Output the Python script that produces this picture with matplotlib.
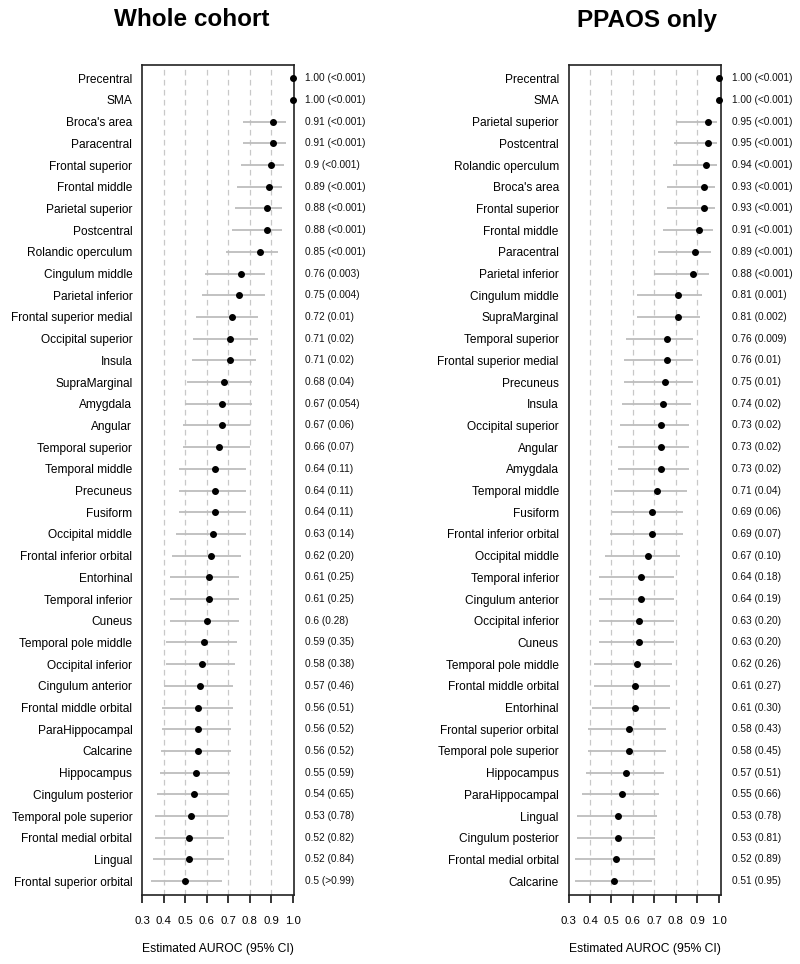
import matplotlib
matplotlib.use("Agg")
import matplotlib.pyplot as plt
import matplotlib.transforms as mtransforms

plt.rcParams['font.family'] = ['Liberation Sans', 'DejaVu Sans']

# ---------------- Whole cohort ----------------
regions_whole = ["Precentral", "SMA", "Broca's area", "Paracentral", "Frontal superior",
                 "Frontal middle", "Parietal superior", "Postcentral", "Rolandic operculum",
                 "Cingulum middle", "Parietal inferior", "Frontal superior medial",
                 "Occipital superior", "Insula", "SupraMarginal", "Amygdala", "Angular",
                 "Temporal superior", "Temporal middle", "Precuneus", "Fusiform",
                 "Occipital middle", "Frontal inferior orbital", "Entorhinal",
                 "Temporal inferior", "Cuneus", "Temporal pole middle", "Occipital inferior",
                 "Cingulum anterior", "Frontal middle orbital", "ParaHippocampal", "Calcarine",
                 "Hippocampus", "Cingulum posterior", "Temporal pole superior",
                 "Frontal medial orbital", "Lingual", "Frontal superior orbital"]
auc_whole = [1.00, 1.00, 0.91, 0.91, 0.90, 0.89, 0.88, 0.88, 0.85, 0.76, 0.75, 0.72, 0.71,
             0.71, 0.68, 0.67, 0.67, 0.66, 0.64, 0.64, 0.64, 0.63, 0.62, 0.61, 0.61, 0.60,
             0.59, 0.58, 0.57, 0.56, 0.56, 0.56, 0.55, 0.54, 0.53, 0.52, 0.52, 0.50]
lo_whole = [1.00, 1.00, 0.768, 0.768, 0.759, 0.740, 0.731, 0.720, 0.692, 0.592, 0.580, 0.551,
            0.539, 0.531, 0.511, 0.501, 0.492, 0.489, 0.471, 0.471, 0.471, 0.460, 0.441, 0.430,
            0.430, 0.430, 0.412, 0.412, 0.401, 0.392, 0.392, 0.390, 0.382, 0.371, 0.360, 0.360,
            0.350, 0.340]
hi_whole = [1.00, 1.00, 0.970, 0.970, 0.960, 0.951, 0.951, 0.951, 0.931, 0.871, 0.871, 0.841,
            0.841, 0.832, 0.812, 0.812, 0.801, 0.801, 0.782, 0.782, 0.782, 0.782, 0.762, 0.753,
            0.753, 0.753, 0.743, 0.733, 0.722, 0.722, 0.712, 0.712, 0.711, 0.701, 0.701, 0.681,
            0.681, 0.672]
text_whole = ["1.00 (<0.001)", "1.00 (<0.001)", "0.91 (<0.001)", "0.91 (<0.001)", "0.9 (<0.001)",
              "0.89 (<0.001)", "0.88 (<0.001)", "0.88 (<0.001)", "0.85 (<0.001)", "0.76 (0.003)",
              "0.75 (0.004)", "0.72 (0.01)", "0.71 (0.02)", "0.71 (0.02)", "0.68 (0.04)",
              "0.67 (0.054)", "0.67 (0.06)", "0.66 (0.07)", "0.64 (0.11)", "0.64 (0.11)",
              "0.64 (0.11)", "0.63 (0.14)", "0.62 (0.20)", "0.61 (0.25)", "0.61 (0.25)",
              "0.6 (0.28)", "0.59 (0.35)", "0.58 (0.38)", "0.57 (0.46)", "0.56 (0.51)",
              "0.56 (0.52)", "0.56 (0.52)", "0.55 (0.59)", "0.54 (0.65)", "0.53 (0.78)",
              "0.52 (0.82)", "0.52 (0.84)", "0.5 (>0.99)"]

# ---------------- PPAOS only ----------------
regions_ppaos = ["Precentral", "SMA", "Parietal superior", "Postcentral", "Rolandic operculum",
                 "Broca's area", "Frontal superior", "Frontal middle", "Paracentral",
                 "Parietal inferior", "Cingulum middle", "SupraMarginal", "Temporal superior",
                 "Frontal superior medial", "Precuneus", "Insula", "Occipital superior",
                 "Angular", "Amygdala", "Temporal middle", "Fusiform", "Frontal inferior orbital",
                 "Occipital middle", "Temporal inferior", "Cingulum anterior",
                 "Occipital inferior", "Cuneus", "Temporal pole middle", "Frontal middle orbital",
                 "Entorhinal", "Frontal superior orbital", "Temporal pole superior",
                 "Hippocampus", "ParaHippocampal", "Lingual", "Cingulum posterior",
                 "Frontal medial orbital", "Calcarine"]
auc_ppaos = [1.00, 1.00, 0.95, 0.95, 0.94, 0.93, 0.93, 0.91, 0.89, 0.88, 0.81, 0.81, 0.76,
             0.76, 0.75, 0.74, 0.73, 0.73, 0.73, 0.71, 0.69, 0.69, 0.67, 0.64, 0.64, 0.63,
             0.63, 0.62, 0.61, 0.61, 0.58, 0.58, 0.57, 0.55, 0.53, 0.53, 0.52, 0.51]
lo_ppaos = [1.00, 1.00, 0.800, 0.791, 0.788, 0.761, 0.761, 0.740, 0.719, 0.700, 0.621, 0.621,
            0.568, 0.560, 0.560, 0.551, 0.542, 0.531, 0.531, 0.512, 0.503, 0.492, 0.470, 0.441,
            0.441, 0.441, 0.441, 0.420, 0.420, 0.409, 0.391, 0.391, 0.381, 0.361, 0.341, 0.341,
            0.331, 0.331]
hi_ppaos = [1.00, 1.00, 0.993, 0.993, 0.993, 0.983, 0.983, 0.972, 0.962, 0.953, 0.922, 0.911,
            0.881, 0.881, 0.881, 0.872, 0.863, 0.863, 0.863, 0.852, 0.831, 0.831, 0.820, 0.791,
            0.791, 0.791, 0.791, 0.782, 0.772, 0.772, 0.752, 0.752, 0.744, 0.722, 0.712, 0.702,
            0.702, 0.691]
text_ppaos = ["1.00 (<0.001)", "1.00 (<0.001)", "0.95 (<0.001)", "0.95 (<0.001)", "0.94 (<0.001)",
              "0.93 (<0.001)", "0.93 (<0.001)", "0.91 (<0.001)", "0.89 (<0.001)", "0.88 (<0.001)",
              "0.81 (0.001)", "0.81 (0.002)", "0.76 (0.009)", "0.76 (0.01)", "0.75 (0.01)",
              "0.74 (0.02)", "0.73 (0.02)", "0.73 (0.02)", "0.73 (0.02)", "0.71 (0.04)",
              "0.69 (0.06)", "0.69 (0.07)", "0.67 (0.10)", "0.64 (0.18)", "0.64 (0.19)",
              "0.63 (0.20)", "0.63 (0.20)", "0.62 (0.26)", "0.61 (0.27)", "0.61 (0.30)",
              "0.58 (0.43)", "0.58 (0.45)", "0.57 (0.51)", "0.55 (0.66)", "0.53 (0.78)",
              "0.53 (0.81)", "0.52 (0.89)", "0.51 (0.95)"]

titles = ["Whole cohort", "PPAOS only"]
tick_values = [0.3, 0.4, 0.5, 0.6, 0.7, 0.8, 0.9, 1.0]
tick_labels = ["0.3", "0.4", "0.5", "0.6", "0.7", "0.8", "0.9", "1.0"]
grid_values = [0.4, 0.5, 0.6, 0.7, 0.8, 0.9]
xlabel = "Estimated AUROC (95% CI)"

W, H = 800, 964
fig = plt.figure(figsize=(W / 100, H / 100), dpi=100)

panels = [
    (regions_whole, auc_whole, lo_whole, hi_whole, text_whole, 142.0, 152.3, 191.5),
    (regions_ppaos, auc_ppaos, lo_ppaos, hi_ppaos, text_ppaos, 568.5, 152.0, 647.0),
]

box_top, box_bot = 65.0, 895.0
for (regs, auc, lo, hi, txt, x0, w, tx), title in zip(panels, titles):
    ax = fig.add_axes([x0 / W, 1 - box_bot / H, w / W, (box_bot - box_top) / H])
    n = len(regs)
    ys = list(range(n))
    ax.set_xlim(0.3, 1.008)
    ax.set_ylim(37.64, -0.61)
    for g in grid_values:
        ax.axvline(g, color='#c8c8c8', lw=0.9, dashes=(4.5, 3.5), zorder=1)
    ax.hlines(ys, lo, hi, color='#bdbdbd', lw=1.3, zorder=2)
    ax.plot(auc, ys, 'o', color='black', ms=4.0, zorder=3, clip_on=False)
    ax.set_yticks(ys)
    ax.set_yticklabels(regs, fontsize=8.6)
    ax.tick_params(axis='y', length=0, pad=7)
    ax.set_xticks(tick_values)
    ax.set_xticklabels(tick_labels, fontsize=8.2)
    ax.tick_params(axis='x', length=6, width=1.1, pad=9, direction='out')
    for s in ax.spines.values():
        s.set_linewidth(1.2)
        s.set_color('#222222')
    trans = mtransforms.blended_transform_factory(fig.transFigure, ax.transData)
    for y, t in zip(ys, txt):
        ax.text((x0 + w + 11) / W, y, t, transform=trans, fontsize=7.3,
                va='center', ha='left', color='#111111')
    fig.text(tx / W, 1 - 20 / H, title, fontsize=17.5, fontweight='bold',
             ha='center', va='center')
    fig.text((x0 + w / 2) / W, 1 - 949 / H, xlabel, fontsize=8.7,
             ha='center', va='center')

fig.savefig("out.png", dpi=100)
